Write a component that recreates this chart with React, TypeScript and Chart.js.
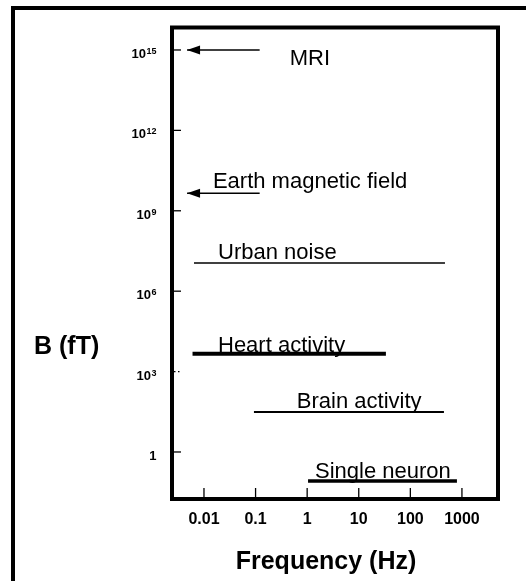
import { useEffect, useRef } from "react";
import { Chart, registerables } from "chart.js";

Chart.register(...registerables);

// ---- data ----
const sourceNames = [
  "MRI",
  "Earth magnetic field",
  "Urban noise",
  "Heart activity",
  "Brain activity",
  "Single neuron",
];
const freqStartHz = [0.0047, 0.0047, 0.0064, 0.006, 0.093, 1.04];
const freqEndHz = [0.12, 0.12, 469, 33.6, 448, 800];
const fieldFT = [1e15, 4.5e9, 1.13e7, 4660, 31, 0.083];
const labelFreqHz = [0.46, 0.0149, 0.0187, 0.0187, 0.63, 1.42];

const xTickValues = [0.01, 0.1, 1, 10, 100, 1000];
const xTickLabels = ["0.01", "0.1", "1", "10", "100", "1000"];
const yTickValues = [1, 1e3, 1e6, 1e9, 1e12, 1e15];
const yTickBase = ["1", "10", "10", "10", "10", "10"];
const yTickExp = ["", "3", "6", "9", "12", "15"];

const xTitle = "Frequency (Hz)";
const yTitle = "B (fT)";

// ---- styles ----
const lineWidths = [1.5, 1.5, 1.5, 4, 2, 3.5];
const hasArrow = [true, true, false, false, false, false];
const labelBaselineOffset = [15, -5, -4, -1.5, -4, -3];

const FONT = "'Liberation Sans', Arial, Helvetica, sans-serif";

const overlay = {
  id: "overlay",
  afterDatasetsDraw(chart: any) {
    const ctx = chart.ctx as CanvasRenderingContext2D;
    const { left, top, right, bottom } = chart.chartArea;
    const xs = chart.scales.x;
    const ys = chart.scales.y;
    ctx.save();
    ctx.fillStyle = "#000";
    ctx.strokeStyle = "#000";

    // outer frame (top and left)
    ctx.fillRect(11, 6, chart.width - 11, 4);
    ctx.fillRect(11, 6, 4, chart.height - 6);

    // plot border
    ctx.lineWidth = 4;
    ctx.strokeRect(left, top, right - left, bottom - top);

    // x ticks + labels
    ctx.lineWidth = 1.3;
    ctx.font = `bold 16px ${FONT}`;
    ctx.textAlign = "center";
    ctx.textBaseline = "middle";
    xTickValues.forEach((v, i) => {
      const px = xs.getPixelForValue(v);
      ctx.beginPath();
      ctx.moveTo(px, bottom - 2);
      ctx.lineTo(px, bottom - 11);
      ctx.stroke();
      ctx.fillText(xTickLabels[i], px, bottom + 21);
    });

    // y ticks + labels
    yTickValues.forEach((v, i) => {
      const py = ys.getPixelForValue(v);
      ctx.save();
      if (yTickExp[i] === "3") {
        ctx.setLineDash([1.5, 2.5]);
      }
      ctx.beginPath();
      ctx.moveTo(left + 2, py);
      ctx.lineTo(left + 9, py);
      ctx.stroke();
      ctx.restore();
      const rightEdge = 156.5;
      ctx.textAlign = "right";
      ctx.textBaseline = "alphabetic";
      let expW = 0;
      if (yTickExp[i]) {
        ctx.font = `bold 9px ${FONT}`;
        ctx.fillText(yTickExp[i], rightEdge, py + 4);
        expW = ctx.measureText(yTickExp[i]).width + 0.5;
      }
      ctx.font = `bold 13px ${FONT}`;
      ctx.fillText(yTickBase[i], rightEdge - expW, py + 8);
    });

    // arrowheads
    chart.data.datasets.forEach((_: any, i: number) => {
      if (!hasArrow[i]) return;
      const p = chart.getDatasetMeta(i).data[0];
      ctx.beginPath();
      ctx.moveTo(p.x, p.y);
      ctx.lineTo(p.x + 13, p.y - 4.5);
      ctx.lineTo(p.x + 13, p.y + 4.5);
      ctx.closePath();
      ctx.fill();
    });

    // series labels
    ctx.font = `22px ${FONT}`;
    ctx.textAlign = "left";
    ctx.textBaseline = "alphabetic";
    sourceNames.forEach((name, i) => {
      const px = xs.getPixelForValue(labelFreqHz[i]);
      const py = ys.getPixelForValue(fieldFT[i]);
      ctx.fillText(name, px, py + labelBaselineOffset[i]);
    });

    // axis titles
    ctx.font = `bold 25px ${FONT}`;
    ctx.textBaseline = "middle";
    ctx.textAlign = "left";
    ctx.fillText(yTitle, 34, 347);
    ctx.textAlign = "center";
    ctx.fillText(xTitle, 326, 562);

    ctx.restore();
  },
};

export default function App() {
  const ref = useRef<HTMLCanvasElement | null>(null);
  useEffect(() => {
    if (!ref.current) return;
    const chart = new Chart(ref.current, {
      type: "line",
      data: {
        datasets: sourceNames.map((name, i) => ({
          label: name,
          data: [
            { x: freqStartHz[i], y: fieldFT[i] },
            { x: freqEndHz[i], y: fieldFT[i] },
          ],
          borderColor: "#000",
          backgroundColor: "#000",
          borderWidth: lineWidths[i],
          borderCapStyle: "butt",
          pointRadius: 0,
          fill: false,
          tension: 0,
        })),
      },
      options: {
        responsive: false,
        animation: false,
        devicePixelRatio: 1,
        layout: { padding: { left: 172, right: 28, top: 27.5, bottom: 82 } },
        plugins: {
          legend: { display: false },
          tooltip: { enabled: false },
          title: { display: false },
        },
        scales: {
          x: { type: "logarithmic", min: 0.0024, max: 5000, display: false },
          y: { type: "logarithmic", min: 0.0176, max: 6.9e15, display: false },
        },
      } as any,
      plugins: [overlay],
    });
    return () => chart.destroy();
  }, []);
  return (
    <div
      style={{
        position: "absolute",
        left: 0,
        top: 0,
        width: 526,
        height: 581,
        background: "#fff",
      }}
    >
      <canvas ref={ref} width={526} height={581} style={{ display: "block" }} />
    </div>
  );
}
